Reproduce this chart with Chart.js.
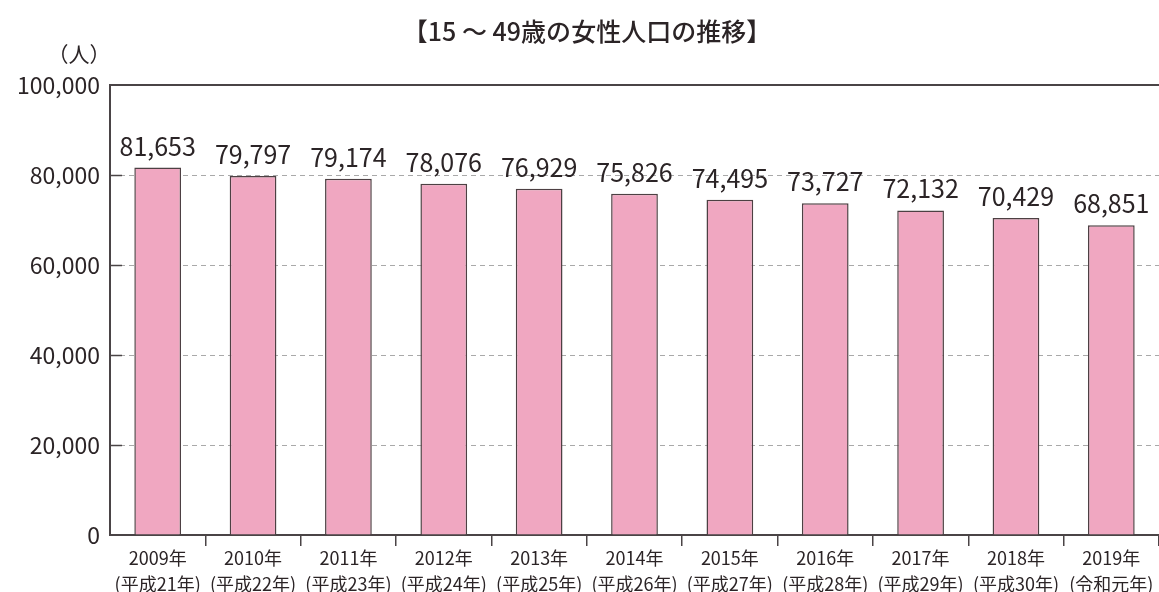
<!DOCTYPE html>
<html lang="ja">
<head>
<meta charset="utf-8">
<title>15～49歳の女性人口の推移</title>
<script src="https://cdn.jsdelivr.net/npm/chart.js@4/dist/chart.umd.min.js"></script>
<style>
  body { margin: 0; background: #fff; }
  #wrap { width: 1159px; height: 592px; position: relative; }
</style>
</head>
<body>
<div id="wrap"><canvas id="myChart"></canvas></div>
<script>
// データ
const years = ['2009年', '2010年', '2011年', '2012年', '2013年', '2014年', '2015年', '2016年', '2017年', '2018年', '2019年'];
const eras = ['(平成21年)', '(平成22年)', '(平成23年)', '(平成24年)', '(平成25年)', '(平成26年)', '(平成27年)', '(平成28年)', '(平成29年)', '(平成30年)', '(令和元年)'];
const women = [81653, 79797, 79174, 78076, 76929, 75826, 74495, 73727, 72132, 70429, 68851];
const yTicks = [0, 20000, 40000, 60000, 80000, 100000];

const FONT = "'Noto Sans CJK JP', 'Noto Sans', sans-serif";
const INK = '#2b2426';
const AXIS = '#4a4446';

// 値ラベル・タイトル・枠線など
const decorations = {
    id: 'decorations',
    afterDraw(chart) {
        const { ctx, chartArea, scales } = chart;
        const y = scales.y;
        ctx.save();

        // 上端の線
        const yTop = y.getPixelForValue(100000);
        ctx.strokeStyle = AXIS;
        ctx.lineWidth = 2;
        ctx.beginPath();
        ctx.moveTo(chartArea.left, yTop);
        ctx.lineTo(chartArea.right, yTop);
        ctx.stroke();

        // 内向きの目盛り
        yTicks.slice(1, -1).forEach(v => {
            const py = Math.round(y.getPixelForValue(v)) + 0.5;
            ctx.lineWidth = 1.5;
            ctx.beginPath();
            ctx.moveTo(chartArea.left, py);
            ctx.lineTo(chartArea.left + 12, py);
            ctx.stroke();
        });

        // 棒の上の数値
        ctx.fillStyle = INK;
        ctx.font = '25px ' + FONT;
        ctx.textAlign = 'center';
        ctx.textBaseline = 'alphabetic';
        chart.getDatasetMeta(0).data.forEach((bar, i) => {
            ctx.fillText(women[i].toLocaleString('en-US'), bar.x, bar.y - 12);
        });

        // タイトルと単位
        ctx.font = '500 25px ' + FONT;
        ctx.fillText('【15 ～ 49歳の女性人口の推移】', 587, 41);
        ctx.font = '21px ' + FONT;
        ctx.fillText('（人）', 79, 62);
        ctx.restore();
    }
};

const ctx = document.getElementById('myChart').getContext('2d');
new Chart(ctx, {
    type: 'bar',
    data: {
        labels: years.map((y, i) => [y, eras[i]]),
        datasets: [{
            label: '15～49歳の女性人口',
            data: women,
            backgroundColor: '#f0a7c1',
            borderColor: '#4d4043',
            borderWidth: 1.5,
            borderSkipped: 'bottom',
            barPercentage: 0.49,
            categoryPercentage: 1
        }]
    },
    options: {
        responsive: true,
        maintainAspectRatio: false,
        animation: false,
        layout: { padding: { top: 85, right: 0, left: 0, bottom: 0 } },
        plugins: {
            legend: { display: false },
            tooltip: { enabled: false }
        },
        scales: {
            x: {
                grid: {
                    offset: true,
                    drawOnChartArea: false,
                    drawTicks: true,
                    tickLength: 11,
                    lineWidth: 1.5,
                    color: c => (c.index === 0 || c.index >= years.length) ? 'rgba(0,0,0,0)' : AXIS
                },
                border: { color: AXIS, width: 2 },
                ticks: {
                    color: INK,
                    font: { family: FONT, size: 18, lineHeight: 1.4 },
                    padding: 0,
                    maxRotation: 0,
                    autoSkip: false
                },
                afterFit: s => { s.height = 57; }
            },
            y: {
                min: 0,
                max: 100000,
                ticks: {
                    stepSize: 20000,
                    color: INK,
                    padding: 10,
                    font: { family: FONT, size: 23 },
                    callback: v => v.toLocaleString('en-US')
                },
                grid: {
                    drawTicks: false,
                    lineWidth: 1,
                    color: c => (c.tick && (c.tick.value === 0 || c.tick.value === 100000)) ? 'rgba(0,0,0,0)' : '#a9a9a9'
                },
                border: { color: AXIS, width: 2, dash: [5, 4] },
                afterFit: s => { s.width = 110; }
            }
        }
    },
    plugins: [decorations]
});
</script>
</body>
</html>
